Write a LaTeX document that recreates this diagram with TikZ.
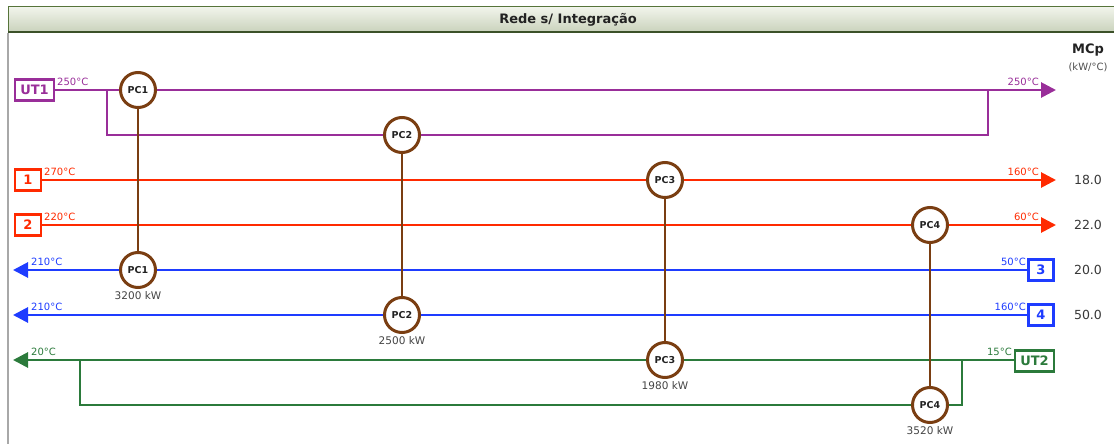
\documentclass[tikz,border=0pt]{standalone}
\usepackage{fontspec}
\setmainfont{DejaVu Sans}
\usetikzlibrary{arrows.meta}

\definecolor{utone}{HTML}{992E99}
\definecolor{hot}{HTML}{FF2A00}
\definecolor{cold}{HTML}{1E3CFF}
\definecolor{uttwo}{HTML}{2B7A3B}
\definecolor{hx}{HTML}{7A3E12}
\definecolor{bartop}{HTML}{F1F4EB}
\definecolor{barbot}{HTML}{C8D1BA}
\definecolor{barline}{HTML}{56743A}
\definecolor{frame}{HTML}{A8A8A8}
\definecolor{ink}{HTML}{222222}

\newcommand{\fs}[1]{\fontsize{#1}{#1}\selectfont}

\tikzset{
  stream/.style={line width=2.8pt},
  flowtip/.style={-{Triangle[length=15pt,width=15pt]}},
  streambox/.style={draw, line width=2.4pt, fill=white, inner sep=0pt,
    minimum height=21pt, font=\fs{13}\bfseries},
  hxnode/.style={circle, draw=hx, line width=3pt, fill=white, inner sep=0pt,
    minimum size=35pt, text=ink, font=\fs{9.5}\bfseries},
  hxline/.style={draw=hx, line width=2.8pt},
  temp/.style={inner sep=0pt, font=\fs{10}},
  duty/.style={inner sep=0pt, anchor=north, text=ink!85, font=\fs{10.5}},
  mcp/.style={inner sep=0pt, text=ink!90, font=\fs{12.5}},
}

\begin{document}
\begin{tikzpicture}[x=1pt,y=-1pt]
\useasboundingbox (0,0) rectangle (1114,444);

% panel frame and title bar
\draw[frame, line width=1.5pt] (8,33) -- (8,444);
\shade[top color=bartop, bottom color=barbot] (8,7) rectangle (1116,33);
\draw[barline, line width=1pt] (1116,7) -- (8,7) -- (8,33);
\draw[barline!70!black, line width=2pt] (8,32.5) -- (1116,32.5);
\node[inner sep=0pt, text=ink, font=\fs{13}\bfseries] (title) at (568,20) {Rede s/ Integração};

% MCp column header
\node[inner sep=0pt, text=ink, font=\fs{13}\bfseries] (mcph) at (1088,50) {MCp};
\node[inner sep=0pt, text=ink!80, font=\fs{10}] (mcpu) at (1088,67) {(kW/°C)};

% stream boxes
\node[streambox, draw=utone, text=utone, minimum width=39pt] (ut1) at (34.5,90) {UT1};
\node[streambox, draw=hot, text=hot, minimum width=26pt] (s1) at (28,180) {1};
\node[streambox, draw=hot, text=hot, minimum width=26pt] (s2) at (28,225) {2};
\node[streambox, draw=cold, text=cold, minimum width=25pt] (s3) at (1041,270) {3};
\node[streambox, draw=cold, text=cold, minimum width=25pt] (s4) at (1041,315) {4};
\node[streambox, draw=uttwo, text=uttwo, minimum width=39pt] (ut2) at (1034.5,361) {UT2};

% stream ends
\coordinate (ut1end) at (1056,90);
\coordinate (s1end) at (1056,180);
\coordinate (s2end) at (1056,225);
\coordinate (s3end) at (13,270);
\coordinate (s4end) at (13,315);
\coordinate (ut2end) at (13,360);

% split points of the two utility bypasses
\coordinate (ut1sa) at (107,90);
\coordinate (ut1sb) at (988,90);
\coordinate (ut2sa) at (962,360);
\coordinate (ut2sb) at (80,360);

% heat exchangers
\node[hxnode] (pc1u) at (138,90) {PC1};
\node[hxnode] (pc1c) at (138,270) {PC1};
\node[hxnode] (pc2u) at (402,135) {PC2};
\node[hxnode] (pc2c) at (402,315) {PC2};
\node[hxnode] (pc3h) at (665,180) {PC3};
\node[hxnode] (pc3u) at (665,360) {PC3};
\node[hxnode] (pc4h) at (930,225) {PC4};
\node[hxnode] (pc4u) at (930,405) {PC4};

% hot utility UT1 with its bypass branch
\draw[stream, utone] (ut1.east) -- (pc1u.west);
\draw[stream, utone, flowtip] (pc1u.east) -- (ut1end);
\draw[stream, utone] (ut1sa) |- (pc2u.west);
\draw[stream, utone] (pc2u.east) -| (ut1sb);

% hot streams
\draw[stream, hot] (s1.east) -- (pc3h.west);
\draw[stream, hot, flowtip] (pc3h.east) -- (s1end);
\draw[stream, hot] (s2.east) -- (pc4h.west);
\draw[stream, hot, flowtip] (pc4h.east) -- (s2end);

% cold streams
\draw[stream, cold] (s3.west) -- (pc1c.east);
\draw[stream, cold, flowtip] (pc1c.west) -- (s3end);
\draw[stream, cold] (s4.west) -- (pc2c.east);
\draw[stream, cold, flowtip] (pc2c.west) -- (s4end);

% cold utility UT2 with its bypass branch
\draw[stream, uttwo] (ut2.west |- ut2sa) -- (pc3u.east);
\draw[stream, uttwo, flowtip] (pc3u.west) -- (ut2end);
\draw[stream, uttwo] (ut2sa) |- (pc4u.east);
\draw[stream, uttwo] (pc4u.west) -| (ut2sb);

% exchanger links
\draw[hxline] (pc1u) -- (pc1c);
\draw[hxline] (pc2u) -- (pc2c);
\draw[hxline] (pc3h) -- (pc3u);
\draw[hxline] (pc4h) -- (pc4u);

% supply / target temperatures
\node[temp, text=utone, anchor=base west] (t1a) at (57,85) {250°C};
\node[temp, text=utone, anchor=base east] (t1b) at (1039,85) {250°C};
\node[temp, text=hot, anchor=base west] (t2a) at (44,175) {270°C};
\node[temp, text=hot, anchor=base east] (t2b) at (1039,175) {160°C};
\node[temp, text=hot, anchor=base west] (t3a) at (44,220) {220°C};
\node[temp, text=hot, anchor=base east] (t3b) at (1039,220) {60°C};
\node[temp, text=cold, anchor=base west] (t4a) at (31,265) {210°C};
\node[temp, text=cold, anchor=base east] (t4b) at (1026,265) {50°C};
\node[temp, text=cold, anchor=base west] (t5a) at (31,310) {210°C};
\node[temp, text=cold, anchor=base east] (t5b) at (1026,310) {160°C};
\node[temp, text=uttwo, anchor=base west] (t6a) at (31,355) {20°C};
\node[temp, text=uttwo, anchor=base east] (t6b) at (1012,355) {15°C};

% exchanger duties
\node[duty] (d1) at (138,291) {3200 kW};
\node[duty] (d2) at (402,336) {2500 kW};
\node[duty] (d3) at (665,381) {1980 kW};
\node[duty] (d4) at (930,426) {3520 kW};

% MCp values
\node[mcp] (m1) at (1088,180) {18.0};
\node[mcp] (m2) at (1088,225) {22.0};
\node[mcp] (m3) at (1088,270) {20.0};
\node[mcp] (m4) at (1088,315) {50.0};
\end{tikzpicture}
\end{document}
